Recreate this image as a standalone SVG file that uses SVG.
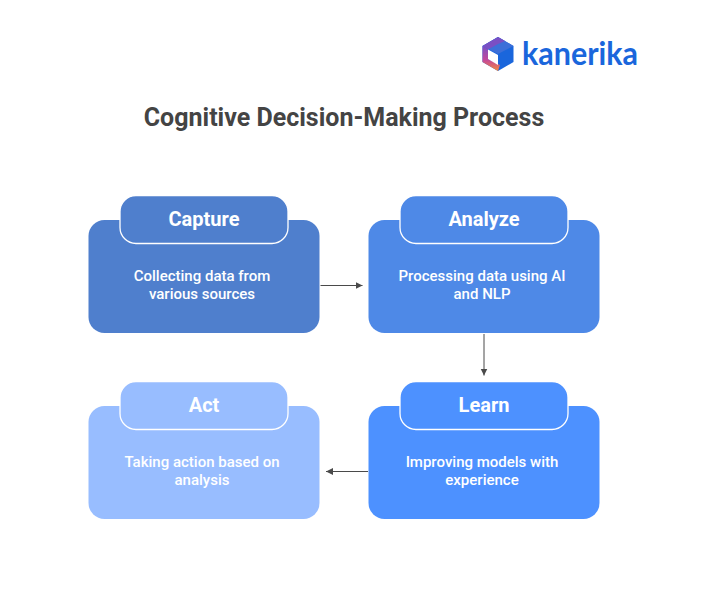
<svg xmlns="http://www.w3.org/2000/svg" width="704" height="592" viewBox="0 0 704 592">
<defs>
<marker id="arr" markerUnits="userSpaceOnUse" markerWidth="8" markerHeight="8" refX="7" refY="4" orient="auto"><path d="M0 0.5L7 4L0 7.500Z" fill="#4a4a4a"/></marker>
<linearGradient id="hexg" x1="0" y1="0" x2="0" y2="1"><stop offset="0" stop-color="#7a4fc4"/><stop offset="0.55" stop-color="#c2479b"/><stop offset="1" stop-color="#f58a3c"/></linearGradient>
</defs>
<style>
text{font-family:Roboto,"Liberation Sans",sans-serif;text-anchor:middle}
.t{font-size:20px;font-weight:700;fill:#fff}
.d{font-size:15px;font-weight:500;fill:#fff}
.b{stroke:none}
.h{stroke:#fff;stroke-width:1.300}
.c{fill:none;stroke:#4a4a4a;stroke-width:1;marker-end:url(#arr)}
</style>
<rect width="704" height="592" fill="#fff"/>
<g id="logo">
<path d="M498 37L513.500 46V62L498 71L482.500 62V46Z" fill="#1a66dc"/>
<path d="M498 37L513.500 46L498 54L482.500 46Z" fill="#3d6fd8"/>
<path d="M498 37L482.500 46L488 49.500L498 44L505 41Z" fill="#7a4fc4"/>
<path d="M482.500 46V62L498 71L500 65L488 59V49.500Z" fill="url(#hexg)"/>
<path d="M488 49.500L498 55V65L488 59Z" fill="#fff"/>
<text x="580" y="65" style="font-family:Lato,'Liberation Sans',sans-serif;font-size:33px;font-weight:700;fill:#1a66dc" textLength="116" lengthAdjust="spacingAndGlyphs">kanerika</text>
</g>
<text id="title" x="344" y="126" style="font-size:25px;font-weight:700;fill:#444">Cognitive Decision-Making Process</text>
<g id="connectors">
<path class="c" d="M320.500 285.500H362.500"/>
<path class="c" d="M484 334V375.500"/>
<path class="c" d="M368 471.500H326"/>
</g>
<g id="capture">
<rect class="b" x="88.500" y="220" width="231" height="113" rx="16" fill="#4f7fcd"/>
<rect class="h" x="120" y="195.500" width="168" height="48" rx="16" fill="#4f7fcd"/>
<text class="t" x="204" y="225.500">Capture</text>
<text class="d" x="202" y="280.500">Collecting data from</text>
<text class="d" x="202" y="298.500">various sources</text>
</g>
<g id="analyze">
<rect class="b" x="368.500" y="220" width="231" height="113" rx="16" fill="#4e89e7"/>
<rect class="h" x="400" y="195.500" width="168" height="48" rx="16" fill="#4e89e7"/>
<text class="t" x="484" y="225.500">Analyze</text>
<text class="d" x="482" y="280.500">Processing data using AI</text>
<text class="d" x="482" y="298.500">and NLP</text>
</g>
<g id="learn">
<rect class="b" x="368.500" y="406" width="231" height="113" rx="16" fill="#4d91ff"/>
<rect class="h" x="400" y="381.500" width="168" height="48" rx="16" fill="#4d91ff"/>
<text class="t" x="484" y="411.500">Learn</text>
<text class="d" x="482" y="466.500">Improving models with</text>
<text class="d" x="482" y="484.500">experience</text>
</g>
<g id="act">
<rect class="b" x="88.500" y="406" width="231" height="113" rx="16" fill="#98bdff"/>
<rect class="h" x="120" y="381.500" width="168" height="48" rx="16" fill="#98bdff"/>
<text class="t" x="204" y="411.500">Act</text>
<text class="d" x="202" y="466.500">Taking action based on</text>
<text class="d" x="202" y="484.500">analysis</text>
</g>
</svg>
